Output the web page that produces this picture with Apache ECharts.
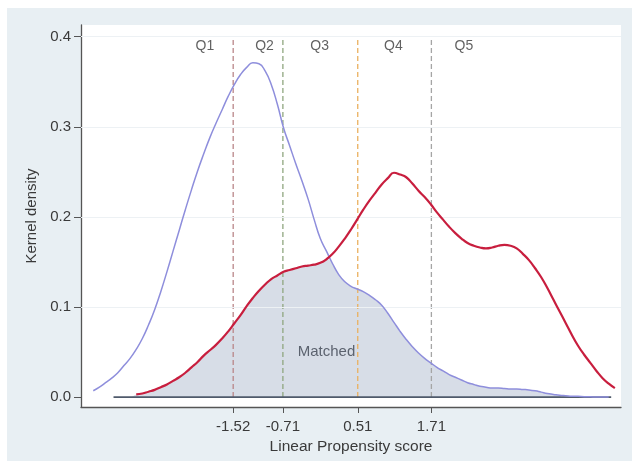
<!DOCTYPE html>
<html><head><meta charset="utf-8">
<script src="https://cdn.jsdelivr.net/npm/echarts@6/dist/echarts.min.js"></script>
<style>html,body{margin:0;padding:0;background:#fff}#c{width:632px;height:461px}</style>
</head><body><div id="c"></div>
<script>
// ---- data ----
const xs = [-3.8,-3.7,-3.6,-3.5,-3.4,-3.3,-3.2,-3.1,-3.0,-2.9,
  -2.8,-2.7,-2.6,-2.5,-2.4,-2.3,-2.2,-2.1,-2.0,-1.9,
  -1.8,-1.7,-1.6,-1.5,-1.4,-1.3,-1.2,-1.1,-1.0,-0.9,
  -0.8,-0.7,-0.6,-0.5,-0.4,-0.3,-0.2,-0.1,0.0,0.1,
  0.2,0.3,0.4,0.5,0.6,0.7,0.8,0.9,1.0,1.1,
  1.2,1.3,1.4,1.5,1.6,1.7,1.8,1.9,2.0,2.1,
  2.2,2.3,2.4,2.5,2.6,2.7,2.8,2.9,3.0,3.1,
  3.2,3.3,3.4,3.5,3.6,3.7,3.8,3.9,4.0,4.1,
  4.2,4.3,4.4,4.5,4.6,4.7];
const control = [0.007,0.011,0.016,0.021,0.027,0.035,0.043,0.053,0.065,0.080,
  0.097,0.117,0.139,0.162,0.185,0.208,0.230,0.251,0.270,0.288,
  0.304,0.319,0.334,0.347,0.358,0.366,0.371,0.370,0.362,0.347,
  0.325,0.299,0.279,0.259,0.240,0.220,0.197,0.176,0.162,0.148,
  0.136,0.128,0.123,0.120,0.117,0.113,0.108,0.102,0.093,0.083,
  0.073,0.064,0.056,0.049,0.043,0.038,0.033,0.029,0.025,0.022,
  0.019,0.016,0.014,0.012,0.011,0.010,0.010,0.0095,0.009,0.009,
  0.0085,0.008,0.007,0.0055,0.004,0.003,0.002,0.0015,0.001,0.0008,
  0.0005,0.0003,0,0,0,null];
const treated = [null,null,null,null,null,null,null,0.003,0.004,0.006,
  0.008,0.011,0.014,0.018,0.022,0.027,0.033,0.039,0.046,0.052,
  0.058,0.065,0.073,0.082,0.091,0.101,0.110,0.118,0.125,0.131,
  0.135,0.139,0.141,0.143,0.145,0.146,0.147,0.149,0.153,0.159,
  0.167,0.176,0.186,0.197,0.208,0.218,0.227,0.236,0.243,0.249,
  0.247,0.244,0.237,0.229,0.222,0.214,0.205,0.197,0.189,0.182,
  0.176,0.171,0.168,0.166,0.165,0.166,0.168,0.169,0.168,0.165,
  0.159,0.152,0.143,0.133,0.121,0.108,0.095,0.082,0.069,0.057,
  0.047,0.038,0.029,0.021,0.015,0.010];
const overlapRange = [-3.47, 4.64];
const cutoffs = [-1.52, -0.71, 0.51, 1.71];
const cutoffTop = 0.4;
const quintileNames = ['Q1','Q2','Q3','Q4','Q5'];
const quintileX = [-1.98, -1.01, -0.11, 1.09, 2.24];
const quintileY = 0.390;
const matchedText = 'Matched';
const matchedPos = [0.0, 0.050];
const yTicks = [0, 0.1, 0.2, 0.3, 0.4];
const xTitle = 'Linear Propensity score';
const yTitle = 'Kernel density';

// ---- derived ----
const overlap = xs.map((x, i) => {
  if (x < overlapRange[0] || x > overlapRange[1]) return [x, null];
  const a = control[i] == null ? 0 : control[i];
  const b = treated[i] == null ? 0 : treated[i];
  return [x, Math.min(a, b)];
});
const pairs = arr => xs.map((x, i) => [x, arr[i]]);
const cutColors = ['#b98588', '#8fa67f', '#eab05e', '#a5a5a5'];
const font = "'Liberation Sans', Arial, sans-serif";
const txt = '#3a3a3a';
const smoothOpts = {smooth: 0.5};

const series = [];
series.push({
  type: 'line', data: [], silent: true, z: 1,
  markLine: {
    silent: true, symbol: 'none', label: {show: false},
    lineStyle: {color: '#edf1f4', width: 1, type: 'solid'},
    data: yTicks.filter(v => v > 0).map(v => ({yAxis: v}))
  }
});
series.push(Object.assign({
  type: 'line', data: overlap, showSymbol: false, silent: true, z: 2,
  lineStyle: {width: 0}, areaStyle: {color: '#d7dde7', opacity: 1}
}, smoothOpts));
cutoffs.forEach((c, i) => series.push({
  type: 'line', data: [[c, 0], [c, cutoffTop]], showSymbol: false, silent: true, z: 3,
  lineStyle: {color: cutColors[i], width: 1.3, type: [5, 3]}
}));
series.push({
  type: 'line', data: [[overlapRange[0], 0], [overlapRange[1], 0]], showSymbol: false, silent: true, z: 4,
  lineStyle: {color: '#4f5a6b', width: 1.6}
});
series.push(Object.assign({
  type: 'line', data: pairs(control), showSymbol: false, silent: true, z: 5,
  lineStyle: {color: '#8e8edc', width: 1.5}
}, smoothOpts));
series.push(Object.assign({
  type: 'line', data: pairs(treated), showSymbol: false, silent: true, z: 6,
  lineStyle: {color: '#c81e3e', width: 2.2}
}, smoothOpts));
series.push({
  type: 'scatter', symbolSize: 0, silent: true, z: 7,
  data: quintileNames.map((n, i) => ({name: n, value: [quintileX[i], quintileY]})),
  label: {show: true, position: 'inside', formatter: p => p.name, color: txt, fontFamily: font, fontSize: 14}
});
series.push({
  type: 'scatter', symbolSize: 0, silent: true, z: 7,
  data: [{name: matchedText, value: matchedPos}],
  label: {show: true, position: 'inside', formatter: p => p.name, color: '#3c4350', fontFamily: font, fontSize: 15}
});

const chart = echarts.init(document.getElementById('c'), null, {renderer: 'canvas'});
chart.setOption({
  animation: false,
  backgroundColor: '#e8eff3',
  graphic: [
    {type: 'rect', shape: {x: 0, y: 0, width: 632, height: 8}, style: {fill: '#ffffff'}, z: -10},
    {type: 'rect', shape: {x: 0, y: 0, width: 7, height: 461}, style: {fill: '#ffffff'}, z: -10}
  ],
  grid: {left: 81, right: 11, top: 25, bottom: 54, show: true, backgroundColor: '#ffffff', borderWidth: 0, containLabel: false, outerBoundsMode: 'none'},
  xAxis: {
    type: 'value', min: -4, max: 4.8,
    name: xTitle, nameLocation: 'middle', nameGap: 25,
    nameTextStyle: {color: txt, fontFamily: font, fontSize: 15.5},
    axisLine: {show: true, onZero: false, lineStyle: {color: '#555', width: 1.3}},
    axisTick: {show: true, customValues: cutoffs, length: 6, lineStyle: {color: '#555'}},
    axisLabel: {customValues: cutoffs, formatter: v => v.toFixed(2), margin: 12, color: txt, fontFamily: font, fontSize: 15},
    splitLine: {show: false}
  },
  yAxis: {
    type: 'value', min: -0.011, max: 0.413,
    name: yTitle, nameLocation: 'middle', nameGap: 40,
    nameTextStyle: {color: txt, fontFamily: font, fontSize: 15},
    axisLine: {show: true, onZero: false, lineStyle: {color: '#555', width: 1.3}},
    axisTick: {show: true, customValues: yTicks, length: 7, lineStyle: {color: '#555'}},
    axisLabel: {customValues: yTicks, formatter: v => v.toFixed(1), margin: 10, color: txt, fontFamily: font, fontSize: 15},
    splitLine: {show: false}
  },
  series: series
});
</script></body></html>
